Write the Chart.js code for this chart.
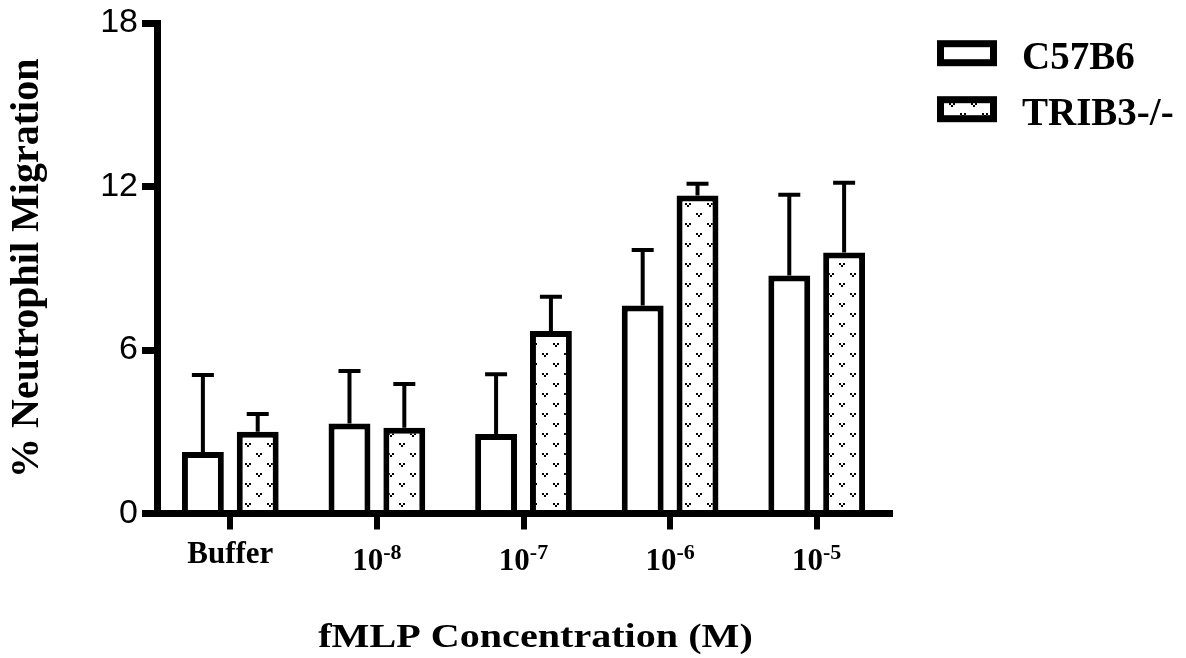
<!DOCTYPE html>
<html>
<head>
<meta charset="utf-8">
<script src="https://cdn.jsdelivr.net/npm/chart.js@4.4.0/dist/chart.umd.min.js"></script>
<style>
  html, body { margin: 0; padding: 0; background: #fff; }
</style>
</head>
<body>
<canvas id="chart" width="1186" height="658"></canvas>
<script>
// fMLP concentration groups: base text + superscript exponent
const catBase = ['Buffer', '10', '10', '10', '10'];
const catExp = ['', '-8', '-7', '-6', '-5'];

// series (mean and upper error, % neutrophil migration)
const seriesNames = ['C57B6', 'TRIB3-/-'];
const wtMean = [2.26, 3.3, 2.92, 7.63, 8.73];
const wtErr = [2.82, 1.93, 2.19, 2.04, 2.97];
const koMean = [3.0, 3.15, 6.7, 11.67, 9.58];
const koErr = [0.65, 1.6, 1.25, 0.43, 2.56];

const yTicks = [0, 6, 12, 18];
const xTitle = 'fMLP Concentration (M)';

const SERIF = "'Liberation Serif', 'Times New Roman', serif";
const SANS = "'Liberation Sans', Arial, sans-serif";

// dotted "v" fill used for the knockout bars
function makeDotPattern(ctx) {
  const c = document.createElement('canvas');
  c.width = 22;
  c.height = 20;
  const g = c.getContext('2d');
  g.fillStyle = '#fff';
  g.fillRect(0, 0, 22, 20);
  g.fillStyle = '#000';
  [[3, 3], [14, 13]].forEach(([x, y]) => {
    g.fillRect(x, y, 2, 2);
    g.fillRect(x + 4, y, 2, 2);
    g.fillRect(x + 2, y + 2, 2, 2);
  });
  return ctx.createPattern(c, 'repeat');
}

const ctx = document.getElementById('chart').getContext('2d');
const dots = makeDotPattern(ctx);

// error bars, superscript category labels, x title and legend
const extrasPlugin = {
  id: 'extras',
  afterDatasetsDraw(chart) {
    const c = chart.ctx;
    const y = chart.scales.y;
    [[wtMean, wtErr], [koMean, koErr]].forEach(([means, errs], di) => {
      chart.getDatasetMeta(di).data.forEach((bar, i) => {
        const top = y.getPixelForValue(means[i] + errs[i]);
        c.save();
        c.strokeStyle = '#000';
        c.lineWidth = 4;
        c.beginPath();
        c.moveTo(bar.x, bar.y);
        c.lineTo(bar.x, top);
        c.moveTo(bar.x - 11, top);
        c.lineTo(bar.x + 11, top);
        c.stroke();
        c.restore();
      });
    });
  },
  afterDraw(chart) {
    const c = chart.ctx;
    const xs = chart.scales.x;
    const area = chart.chartArea;
    const big = 'bold 31px ' + SERIF;
    const small = 'bold 22px ' + SERIF;

    c.save();
    c.fillStyle = '#000';
    c.textAlign = 'left';
    c.textBaseline = 'alphabetic';
    catBase.forEach((txt, i) => {
      const cx = xs.getPixelForTick(i);
      c.font = big;
      const w1 = c.measureText(txt).width;
      c.font = small;
      const w2 = catExp[i] ? c.measureText(catExp[i]).width : 0;
      const x0 = cx - (w1 + w2) / 2;
      const by = area.bottom + (catExp[i] ? 56.5 : 49.5);
      c.font = big;
      c.fillText(txt, x0, by);
      if (catExp[i]) {
        c.font = small;
        c.fillText(catExp[i], x0 + w1, by - 11);
      }
    });

    // x axis title, drawn a little wide like the original
    c.font = 'bold 34px ' + SERIF;
    c.textAlign = 'center';
    c.save();
    c.translate((area.left + area.right) / 2 + 12, area.bottom + 133.5);
    c.scale(1.18, 1);
    c.fillText(xTitle, 0, 0);
    c.restore();

    // legend
    const fills = ['#fff', dots];
    c.textAlign = 'left';
    c.font = 'bold 39px ' + SERIF;
    seriesNames.forEach((name, i) => {
      const bx = area.right + 50.5;
      const bTop = area.top + 20.7 + i * 56;
      c.fillStyle = fills[i];
      c.fillRect(bx, bTop, 53, 19);
      c.strokeStyle = '#000';
      c.lineWidth = 7;
      c.strokeRect(bx, bTop, 53, 19);
      c.fillStyle = '#000';
      c.fillText(name, bx + 81.5, bTop + 25.5);
    });
    c.restore();
  }
};

new Chart(ctx, {
  type: 'bar',
  data: {
    labels: catBase.map((b, i) => catExp[i] ? b + '^' + catExp[i] : b),
    datasets: [{
      label: seriesNames[0],
      data: wtMean,
      backgroundColor: '#fff',
      borderColor: '#000',
      borderWidth: 6
    }, {
      label: seriesNames[1],
      data: koMean,
      backgroundColor: dots,
      borderColor: '#000',
      borderWidth: 6
    }]
  },
  options: {
    responsive: false,
    animation: false,
    devicePixelRatio: 1,
    layout: {
      padding: { left: 0, top: 23, right: 296, bottom: 0 }
    },
    plugins: {
      legend: { display: false },
      tooltip: { enabled: false }
    },
    datasets: {
      bar: {
        categoryPercentage: 0.748,
        barPercentage: 0.764
      }
    },
    scales: {
      x: {
        z: 1,
        offset: true,
        afterFit(scale) { scale.height = 144.5; },
        grid: {
          offset: false,
          drawOnChartArea: false,
          drawTicks: true,
          tickLength: 16,
          tickWidth: 6,
          lineWidth: 6,
          color: '#000'
        },
        border: { display: true, width: 7, color: '#000' },
        ticks: { display: false }
      },
      y: {
        z: 1,
        min: 0,
        max: 18,
        afterFit(scale) { scale.width = 157; },
        afterBuildTicks(scale) { scale.ticks = yTicks.map(v => ({ value: v })); },
        grid: {
          drawOnChartArea: false,
          drawTicks: true,
          tickLength: 15,
          tickWidth: 7,
          lineWidth: 7,
          color: '#000'
        },
        border: { display: true, width: 7, color: '#000' },
        ticks: {
          color: '#000',
          padding: 4,
          font: { family: SANS, size: 34, lineHeight: 1 }
        },
        title: {
          display: true,
          text: '% Neutrophil Migration',
          color: '#000',
          font: { family: SERIF, size: 40, weight: 'bold', lineHeight: 1 },
          padding: { top: 8, bottom: 0 }
        }
      }
    }
  },
  plugins: [extrasPlugin]
});
</script>
</body>
</html>
